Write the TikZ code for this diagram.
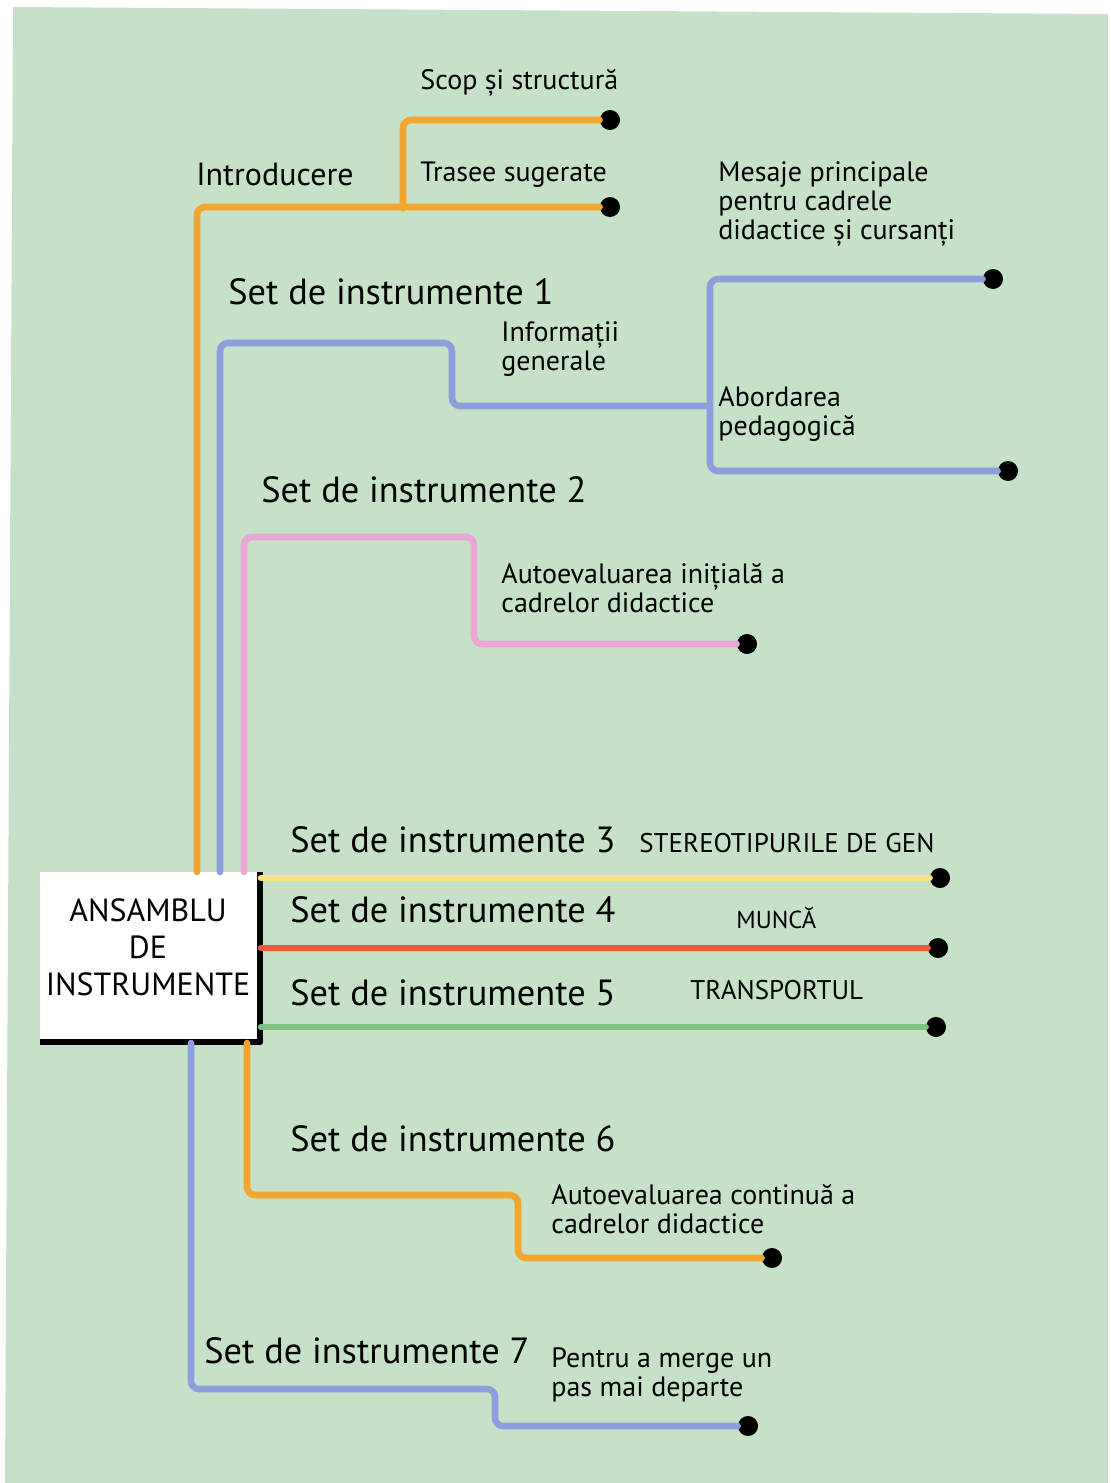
\documentclass[tikz,border=0pt]{standalone}
\usepackage{fontspec}
\setmainfont{PT Sans}
\definecolor{bggreen}{HTML}{C6E1C7}
\definecolor{chalkorange}{HTML}{F2A62E}
\definecolor{chalkblue}{HTML}{8A9FDB}
\definecolor{chalkpink}{HTML}{E9A6D4}
\definecolor{chalkyellow}{HTML}{F7E57A}
\definecolor{chalkred}{HTML}{EE5A3A}
\definecolor{chalkgreen}{HTML}{7FC282}
\begin{document}
\begin{tikzpicture}[x = 0.5pt, y = -0.5pt,
    chalk/.style = {line width = 3.3pt, line cap = round, line join = round, rounded corners = 4pt},
    dot/.style = {circle, fill = black, inner sep = 0pt, minimum size = 10pt},
    toolset/.style = {anchor = west, inner sep = 0pt, font = \fontsize{18.2}{20}\selectfont},
    part/.style = {anchor = west, inner sep = 0pt, align = left, font = \fontsize{14}{14.5}\selectfont},
    theme/.style = {anchor = west, inner sep = 0pt, font = \fontsize{13.5}{14}\selectfont}]
  \useasboundingbox (0, 0) rectangle (1110, 1483);
  \fill [bggreen] (13, 7) -- (1108, 14) -- (1108, 1483) -- (5, 1483) -- cycle;
  % central box
  \node [fill = white, minimum width = 110pt, minimum height = 85pt, inner sep = 0pt] (box) at (150, 957){};
  \node [align = center, inner sep = 0pt, font = \fontsize{16}{18.5}\selectfont] (boxtext) at (148, 947)
        {ANSAMBLU\\DE\\INSTRUMENTE};
  \draw [line width = 3pt, line join = round] (box.north east) |- (box.south west);
  % end points
  \node [dot] (d0a) at (610, 120){};
  \node [dot] (d0b) at (610, 207){};
  \node [dot] (d1a) at (993, 279){};
  \node [dot] (d1b) at (1008, 471){};
  \node [dot] (d2) at (747, 644){};
  \node [dot] (d3) at (940, 878){};
  \node [dot] (d4) at (938, 948){};
  \node [dot] (d5) at (936, 1027){};
  \node [dot] (d6) at (772, 1258){};
  \node [dot] (d7) at (748, 1426){};
  % start and turning points
  \coordinate (s0) at (197, 872); \coordinate (j0) at (403, 208);
  \coordinate (s1) at (220, 872); \coordinate (k1) at (452, 343); \coordinate (j1) at (710, 406);
  \coordinate (s2) at (244, 872); \coordinate (k2) at (474, 537);
  \coordinate (s3) at (261, 878);
  \coordinate (s4) at (261, 948);
  \coordinate (s5) at (261, 1027);
  \coordinate (s6) at (247, 1043); \coordinate (k6) at (518, 1195);
  \coordinate (s7) at (191, 1043); \coordinate (k7) at (495, 1389);
  % lines
  \draw [chalk, chalkorange] (s0) |- (d0b); \draw [chalk, chalkorange] (j0) |- (d0a);
  \draw [chalk, chalkblue] (s1) |- (k1) |- (j1);
  \draw [chalk, chalkblue] (d1a) -| (j1) |- (d1b);
  \draw [chalk, chalkpink] (s2) |- (k2) |- (d2);
  \draw [chalk, chalkyellow] (s3) -- (d3);
  \draw [chalk, chalkred] (s4) -- (d4);
  \draw [chalk, chalkgreen] (s5) -- (d5);
  \draw [chalk, chalkorange] (s6) |- (k6) |- (d6);
  \draw [chalk, chalkblue] (s7) |- (k7) |- (d7);
  % labels
  \node [part] (scop) at (420, 83) {Scop și structură};
  \node [part, font = \fontsize{16}{17}\selectfont] (intro) at (196, 174) {Introducere};
  \node [part] (trasee) at (420, 175) {Trasee sugerate};
  \node [part] (mesaje) at (718, 204) {Mesaje principale\\pentru cadrele\\didactice și cursanți};
  \node [toolset] (t1) at (228, 292) {Set de instrumente 1};
  \node [part] (info) at (501, 349) {Informații\\generale};
  \node [part] (abord) at (718, 414) {Abordarea\\pedagogică};
  \node [toolset] (t2) at (261, 490) {Set de instrumente 2};
  \node [part] (initiala) at (501, 588) {Autoevaluarea inițială a\\cadrelor didactice};
  \node [toolset] (t3) at (290, 840) {Set de instrumente 3};
  \node [theme] (gen) at (639, 843) {STEREOTIPURILE DE GEN};
  \node [toolset] (t4) at (290, 910) {Set de instrumente 4};
  \node [theme, font = \fontsize{12.3}{14}\selectfont] (munca) at (736, 918) {MUNCĂ};
  \node [toolset] (t5) at (290, 993) {Set de instrumente 5};
  \node [theme] (transport) at (690, 990) {TRANSPORTUL};
  \node [toolset] (t6) at (290, 1139) {Set de instrumente 6};
  \node [part] (continua) at (551, 1209) {Autoevaluarea continuă a\\cadrelor didactice};
  \node [toolset] (t7) at (204, 1351) {Set de instrumente 7};
  \node [part] (pas) at (551, 1375) {Pentru a merge un\\pas mai departe};
\end{tikzpicture}
\end{document}
